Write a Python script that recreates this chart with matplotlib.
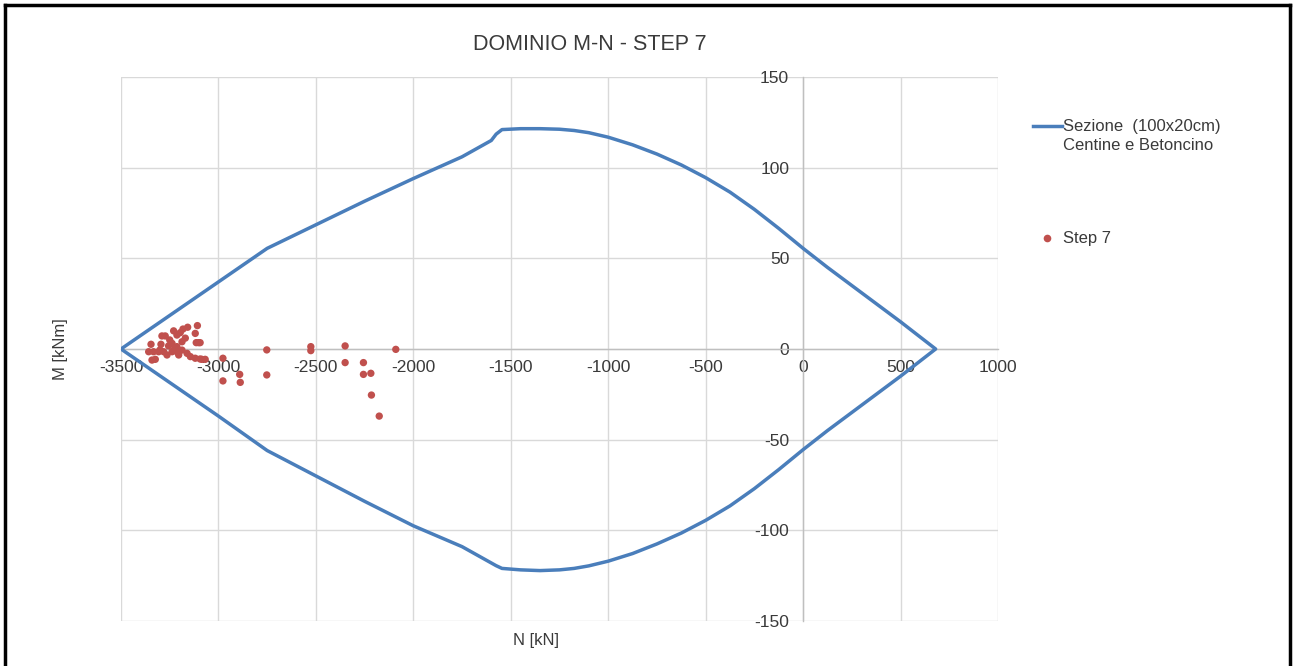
import matplotlib
matplotlib.use("Agg")
import matplotlib.pyplot as plt
from matplotlib.lines import Line2D

plt.rcParams['font.family'] = ['Liberation Sans', 'DejaVu Sans']

# Interaction domain boundary (N [kN], M [kNm]) for the 100x20cm section
dom_upper_n = [-3500, -3250, -3000, -2750, -2500, -2250, -2000, -1750, -1600, -1575,
               -1545, -1450, -1350, -1250, -1175, -1100, -1000, -875, -750, -625,
               -500, -375, -250, -125, 0, 125, 250, 375, 500, 680]
dom_upper_m = [0, 18.5, 37, 55.5, 68.5, 81.5, 94, 106, 115, 118.5,
               121, 121.5, 121.5, 121.2, 120.5, 119.3, 116.8, 112.6, 107.5, 101.5,
               94.5, 86.5, 77, 66.5, 55.5, 45, 35, 25, 15, 0]
dom_lower_n = [680, 500, 375, 250, 125, 0, -125, -250, -375, -500, -625, -750,
               -875, -1000, -1100, -1175, -1250, -1350, -1450, -1545, -1575, -1600,
               -1750, -2000, -2250, -2500, -2750, -3000, -3250, -3500]
dom_lower_m = [0, -15, -25, -35, -45, -55.5, -66.5, -77, -86.5, -94.5, -101.5, -107.5,
               -112.8, -117, -119.6, -121, -121.8, -122.2, -121.8, -121, -119.5, -118,
               -109, -97.5, -84, -70, -56, -37, -18.5, 0]

# Step 7 internal forces
step_n = [-3108, -3119, -3158, -3182, -3196, -3213, -3273, -3290, -3114, -3102,
          -3346, -3295, -3238, -3187, -3213, -3256, -3358, -3333, -3307, -3281,
          -3238, -3213, -3187, -3161, -3144, -3119, -3094, -3341, -3324, -3204,
          -3264, -3230, -3170, -3300, -3250, -3225,
          -3094, -3085, -3068, -2977, -2977, -2891, -2888, -2752, -2752,
          -2526, -2526, -2350, -2350, -2256, -2256, -2218, -2215, -2175, -2090]
step_m = [12.9, 8.6, 12.0, 11.0, 9.0, 7.7, 7.2, 7.2, 3.5, 3.5,
          2.6, 2.6, 3.1, 4.0, 1.3, 1.7, -1.5, -1.5, -1.5, -1.5,
          -1.5, -1.5, -0.6, -2.4, -4.2, -5.1, -5.5, -6.1, -5.7, -3.3,
          -3.3, 10.0, 6.0, -0.5, 5.0, 0.0,
          3.5, -5.7, -5.7, -5.1, -17.6, -14.0, -18.4, -0.5, -14.3,
          1.3, -0.9, 1.7, -7.5, -7.5, -14.0, -13.4, -25.4, -37.0, -0.2]

x_ticks = list(range(-3500, 1001, 500))
y_ticks = list(range(-150, 151, 50))

line_color = '#4A7EBB'
dot_color = '#C0504D'
grid_color = '#D9D9D9'
text_color = '#3A3A3A'

fig = plt.figure(figsize=(12.93, 6.66), dpi=100)
ax = fig.add_axes([121 / 1293, 1 - 621 / 666, (998 - 121) / 1293, (621 - 77) / 666])

ax.plot(dom_upper_n + dom_lower_n, dom_upper_m + dom_lower_m,
        color=line_color, lw=2.5, solid_joinstyle='round', zorder=3)
ax.scatter(step_n, step_m, s=28, color=dot_color, edgecolors='none', zorder=4)

ax.set_xlim(-3500, 1000)
ax.set_ylim(-150, 150)
ax.set_xticks(x_ticks)
ax.set_yticks(y_ticks)
ax.set_xticklabels([str(v) for v in x_ticks])
ax.set_yticklabels([str(v) for v in y_ticks])
ax.grid(True, color=grid_color, lw=1.0, zorder=0)
ax.set_axisbelow(True)

for side in ('top', 'right'):
    ax.spines[side].set_visible(False)
ax.spines['left'].set_position(('data', 0))
ax.spines['bottom'].set_position(('data', 0))
for side in ('left', 'bottom'):
    ax.spines[side].set_color('#BFBFBF')
    ax.spines[side].set_linewidth(1.0)
ax.tick_params(axis='both', length=0, labelsize=12.5, labelcolor=text_color)
ax.tick_params(axis='x', pad=8)
ax.tick_params(axis='y', pad=10)

fig.text(590 / 1293, 1 - 45 / 666, 'DOMINIO M-N - STEP 7', ha='center', va='center',
         fontsize=15.5, color=text_color)
fig.text(60 / 1293, 1 - 349 / 666, 'M [kNm]', ha='center', va='center', rotation=90,
         fontsize=12, color=text_color)
fig.text(536 / 1293, 1 - 640 / 666, 'N [kN]', ha='center', va='center',
         fontsize=12, color=text_color)

# Legend entries
fig.add_artist(Line2D([1033 / 1293, 1062 / 1293], [1 - 126 / 666, 1 - 126 / 666],
                      color=line_color, lw=2.5, transform=fig.transFigure))
fig.text(1063 / 1293, 1 - 126 / 666, 'Sezione  (100x20cm)', ha='left', va='center',
         fontsize=12, color=text_color)
fig.text(1063 / 1293, 1 - 146 / 666, 'Centine e Betoncino', ha='left', va='center',
         fontsize=12, color=text_color)
fig.add_artist(Line2D([1047 / 1293], [1 - 238 / 666], marker='o', markersize=5.5,
                      color=dot_color, markeredgewidth=0, transform=fig.transFigure))
fig.text(1063 / 1293, 1 - 238 / 666, 'Step 7', ha='left', va='center',
         fontsize=12, color=text_color)

# Outer frame
for xs, ys in (([5 / 1293, 5 / 1293], [0, 1 - 5 / 666]),
               ([1290 / 1293, 1290 / 1293], [0, 1 - 5 / 666]),
               ([5 / 1293, 1290 / 1293], [1 - 5 / 666, 1 - 5 / 666])):
    fig.add_artist(Line2D(xs, ys, color='black', lw=2.5, transform=fig.transFigure))

fig.savefig('out.png', dpi=100, facecolor='white')
